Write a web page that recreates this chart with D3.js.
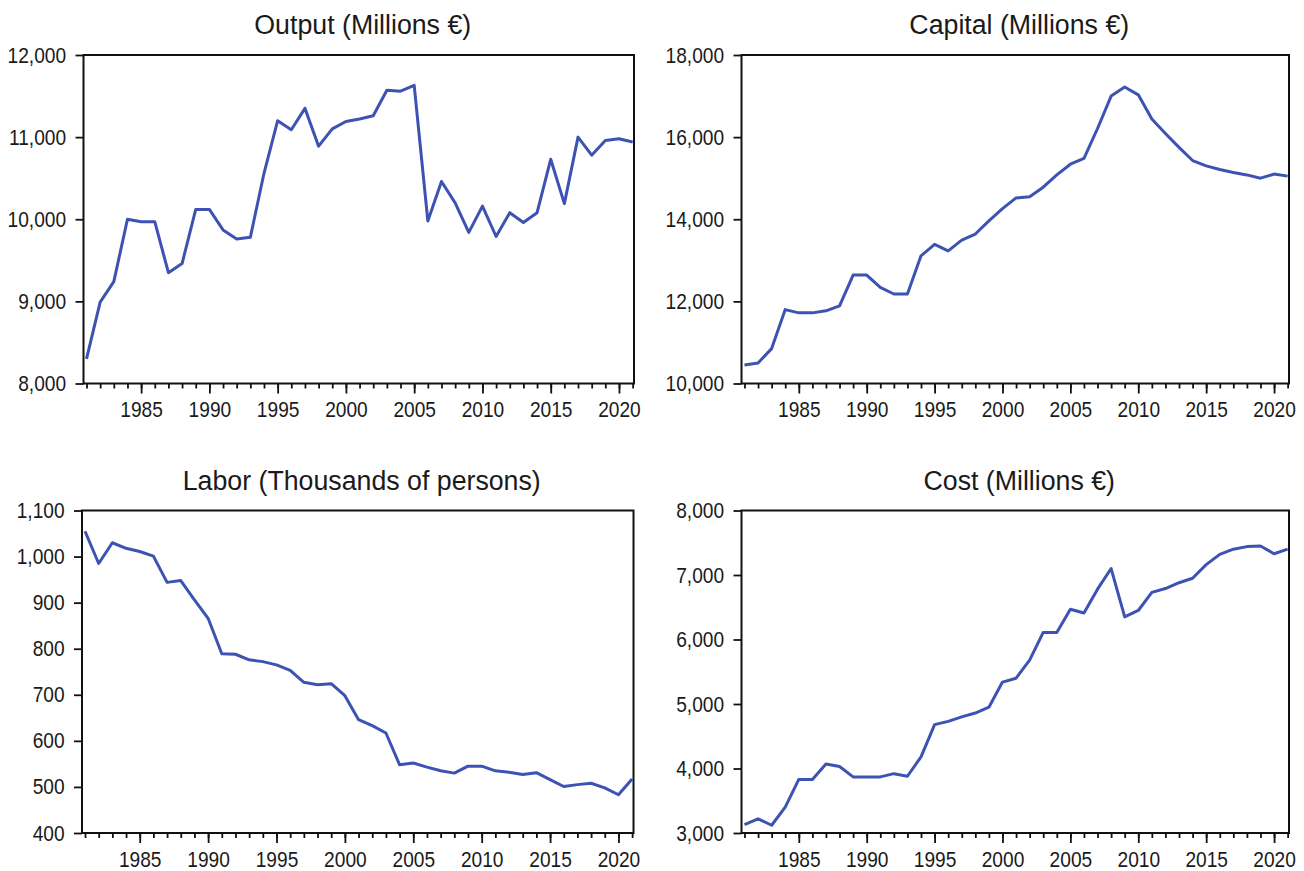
<!DOCTYPE html>
<html>
<head>
<meta charset="utf-8">
<script src="https://cdn.jsdelivr.net/npm/d3@7"></script>
<style>
  html, body { margin: 0; padding: 0; background: #fff; }
  svg { display: block; font-family: "Liberation Sans", Arial, sans-serif; }
</style>
</head>
<body>
<svg id="chart" width="1304" height="871"></svg>
<script>
const years = [1981,1982,1983,1984,1985,1986,1987,1988,1989,1990,1991,1992,1993,1994,1995,1996,1997,1998,1999,2000,
  2001,2002,2003,2004,2005,2006,2007,2008,2009,2010,2011,2012,2013,2014,2015,2016,2017,2018,2019,2020,2021];
const majorYears = [1985,1990,1995,2000,2005,2010,2015,2020];

const outputValues = [8300,8990,9240,10000,9970,9970,9350,9460,10120,10120,9870,9760,9780,10560,11200,11090,11350,10890,11100,11190,
  11220,11260,11570,11560,11630,9980,10460,10200,9840,10160,9790,10080,9960,10080,10730,10190,11000,10780,10960,10980,10940];
const capitalValues = [10450,10500,10850,11800,11720,11720,11770,11890,12640,12640,12340,12180,12180,13110,13390,13230,13490,13640,13960,14260,
  14520,14550,14780,15080,15340,15480,16210,17000,17220,17030,16440,16090,15750,15430,15300,15210,15140,15080,15000,15100,15050];
const laborValues = [1055,985,1030,1018,1011,1001,944,948,906,866,789,788,776,772,765,753,727,722,724,698,
  646,633,617,548,552,543,535,530,545,545,535,532,527,531,516,501,505,508,498,483,517];
const costValues = [3130,3220,3120,3400,3830,3830,4070,4030,3870,3870,3870,3920,3880,4180,4680,4730,4800,4860,4950,5340,
  5400,5680,6110,6110,6470,6410,6780,7100,6350,6450,6730,6790,6880,6950,7160,7320,7400,7440,7450,7330,7400];

const titles = ["Output (Millions €)", "Capital (Millions €)", "Labor (Thousands of persons)", "Cost (Millions €)"];
const yDomains = [[8000,12000],[10000,18000],[400,1100],[3000,8000]];
const yTickValues = [
  [8000,9000,10000,11000,12000],
  [10000,12000,14000,16000,18000],
  [400,500,600,700,800,900,1000,1100],
  [3000,4000,5000,6000,7000,8000]
];
const seriesList = [outputValues, capitalValues, laborValues, costValues];

// layout (plot boxes)
const boxes = [
  {x0: 83.5, x1: 634, y0: 55, y1: 383.5, ty: 34},
  {x0: 741.5, x1: 1289, y0: 55, y1: 383.5, ty: 34},
  {x0: 82, x1: 633.5, y0: 510.5, y1: 833, ty: 490},
  {x0: 741.5, x1: 1289, y0: 510.5, y1: 833, ty: 490}
];

const svg = d3.select("#chart");
const lineColor = "#3c53b4";
const textColor = "#1a1a1a";
const sx = 0.87;

boxes.forEach((b, i) => {
  const x = d3.scaleLinear().domain([1980.78, 2021.1]).range([b.x0, b.x1]);
  const y = d3.scaleLinear().domain(yDomains[i]).range([b.y1, b.y0]);
  const g = svg.append("g");

  // title
  g.append("text")
    .attr("transform", `translate(${(b.x0 + b.x1) / 2 + 4},${b.ty}) scale(0.955,1)`)
    .attr("text-anchor", "middle")
    .attr("font-size", 28)
    .attr("fill", textColor)
    .text(titles[i]);

  // minor x ticks
  const xMinor = g.append("g").attr("transform", `translate(0,${b.y1})`)
    .call(d3.axisBottom(x).tickValues(years).tickSize(5).tickFormat(""));
  xMinor.select(".domain").remove();
  xMinor.selectAll("line").attr("stroke", "#111").attr("stroke-width", 1.8);

  // major x ticks with labels
  const xMajor = g.append("g").attr("transform", `translate(0,${b.y1})`)
    .call(d3.axisBottom(x).tickValues(majorYears).tickSize(10).tickPadding(8).tickFormat(d3.format("d")));
  xMajor.select(".domain").remove();
  xMajor.selectAll("line").attr("stroke", "#111").attr("stroke-width", 1.8);
  xMajor.selectAll("text")
    .attr("font-size", 22)
    .attr("fill", textColor)
    .attr("font-family", "Liberation Sans, Arial, sans-serif")
    .attr("transform", `scale(${sx},1)`);

  // y axis
  const yAx = g.append("g").attr("transform", `translate(${b.x0},0)`)
    .call(d3.axisLeft(y).tickValues(yTickValues[i]).tickSize(8).tickPadding(12).tickFormat(d3.format(",")));
  yAx.select(".domain").remove();
  yAx.selectAll("line").attr("stroke", "#111").attr("stroke-width", 1.8);
  yAx.selectAll("text")
    .attr("font-size", 22)
    .attr("fill", textColor)
    .attr("font-family", "Liberation Sans, Arial, sans-serif")
    .attr("transform", `scale(${sx},1)`);

  // frame
  g.append("rect")
    .attr("x", b.x0).attr("y", b.y0)
    .attr("width", b.x1 - b.x0).attr("height", b.y1 - b.y0)
    .attr("fill", "none").attr("stroke", "#111").attr("stroke-width", 2);

  // line
  const line = d3.line().x((d, j) => x(years[j])).y(d => y(d));
  g.append("path")
    .datum(seriesList[i])
    .attr("d", line)
    .attr("fill", "none")
    .attr("stroke", lineColor)
    .attr("stroke-width", 3)
    .attr("stroke-linejoin", "round");
});
</script>
</body>
</html>
